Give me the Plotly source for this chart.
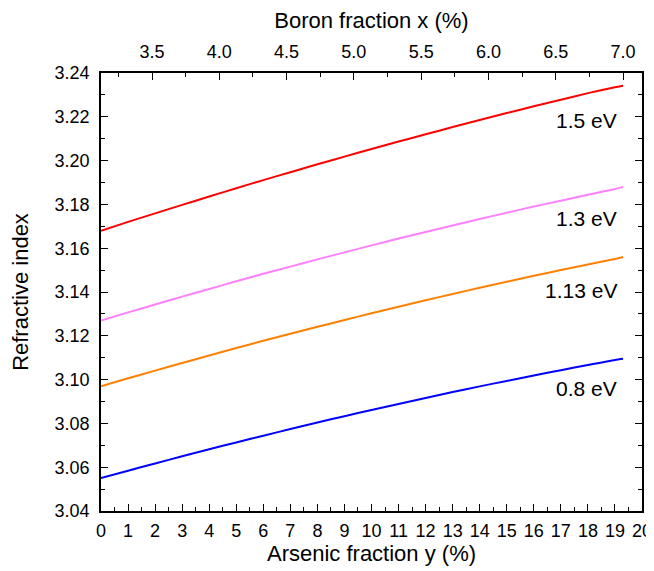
import plotly.graph_objects as go

arsenic = [0, 1, 2, 3, 4, 5, 6, 7, 8, 9, 10, 11, 12, 13, 14, 15, 16, 17, 18, 19, 19.3]
n_15 = [3.1680, 3.1720, 3.1759, 3.1798, 3.1836, 3.1874, 3.1911, 3.1947, 3.1983, 3.2018, 3.2053,
        3.2087, 3.2120, 3.2153, 3.2185, 3.2217, 3.2248, 3.2278, 3.2308, 3.2335, 3.2342]
n_13 = [3.1270, 3.1307, 3.1343, 3.1379, 3.1414, 3.1449, 3.1483, 3.1516, 3.1549, 3.1581, 3.1613,
        3.1644, 3.1674, 3.1704, 3.1733, 3.1762, 3.1790, 3.1817, 3.1844, 3.1870, 3.1880]
n_113 = [3.0970, 3.1006, 3.1041, 3.1076, 3.1110, 3.1144, 3.1177, 3.1209, 3.1241, 3.1272, 3.1303,
         3.1333, 3.1362, 3.1391, 3.1419, 3.1447, 3.1474, 3.1500, 3.1526, 3.1551, 3.1560]
n_08 = [3.0550, 3.0584, 3.0617, 3.0650, 3.0682, 3.0713, 3.0744, 3.0774, 3.0804, 3.0833, 3.0861,
        3.0889, 3.0916, 3.0943, 3.0969, 3.0994, 3.1019, 3.1043, 3.1067, 3.1090, 3.1095]

series = [("1.5 eV", n_15, "#ff0000", 3.2185),
          ("1.3 eV", n_13, "#ff80ff", 3.1736),
          ("1.13 eV", n_113, "#ff8000", 3.1407),
          ("0.8 eV", n_08, "#0000ff", 3.0958)]

boron_range = [3.121, 7.141]
boron_ticks = [3.5, 4.0, 4.5, 5.0, 5.5, 6.0, 6.5, 7.0]

font_family = "Liberation Sans, Arial, sans-serif"

fig = go.Figure()
for name, vals, color, ly in series:
    fig.add_trace(go.Scatter(x=arsenic, y=vals, mode="lines", name=name,
                             line=dict(color=color, width=2, shape="spline", smoothing=0.6),
                             showlegend=False))
    fig.add_annotation(x=19.15, y=ly, text=name, showarrow=False, xanchor="right",
                       yanchor="middle", font=dict(size=21, color="black", family=font_family))

# dummy trace for top axis
fig.add_trace(go.Scatter(x=boron_range, y=[None, None], xaxis="x2", mode="lines",
                         showlegend=False, hoverinfo="skip"))

axis_common = dict(showline=True, linecolor="black", linewidth=1.5, ticks="inside",
                   tickcolor="black", tickwidth=1.3, showgrid=False, zeroline=False,
                   automargin=False,
                   tickfont=dict(size=18, color="black", family=font_family))

fig.update_layout(
    width=646, height=563,
    margin=dict(l=93, r=12, t=65, b=60),
    paper_bgcolor="white", plot_bgcolor="white",
    font=dict(family=font_family, color="black"),
    xaxis=dict(range=[0, 20], tickmode="linear", tick0=0, dtick=1, ticklen=7, ticklabelstandoff=3,
               minor=dict(ticks="inside", ticklen=4, dtick=0.5, tickcolor="black", tickwidth=1.2),
               title=dict(text="Arsenic fraction y (%)", font=dict(size=22, family=font_family), standoff=1),
               **axis_common),
    xaxis2=dict(range=boron_range, overlaying="x", side="top", tickmode="array", ticklabelstandoff=6,
                tickvals=boron_ticks, ticktext=[f"{v:.1f}" for v in boron_ticks], ticklen=7,
                minor=dict(ticks="inside", ticklen=4, tickvals=[3.25, 3.75, 4.25, 4.75, 5.25, 5.75, 6.25, 6.75],
                           tickcolor="black", tickwidth=1.2),
                title=dict(text="Boron fraction x (%)", font=dict(size=22, family=font_family), standoff=8),
                **axis_common),
    yaxis=dict(range=[3.04, 3.24], tickmode="linear", tick0=3.04, dtick=0.02, tickformat=".2f",
               ticklen=7, mirror="ticks", ticklabelstandoff=6,
               minor=dict(ticks="inside", ticklen=4, dtick=0.01, tickcolor="black", tickwidth=1.2),
               title=dict(text="Refractive index", font=dict(size=22, family=font_family), standoff=20),
               **axis_common),
)

fig.write_html("out.html")
